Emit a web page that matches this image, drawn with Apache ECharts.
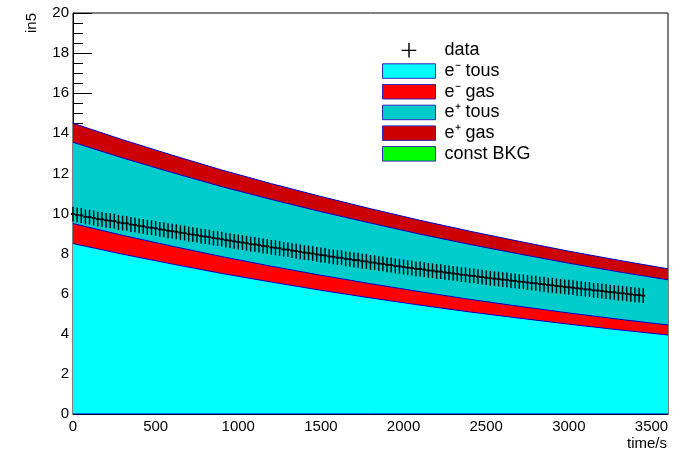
<!DOCTYPE html>
<html><head><meta charset="utf-8">
<script src="https://cdn.jsdelivr.net/npm/echarts@6/dist/echarts.min.js"></script>
<style>html,body{margin:0;padding:0;background:#fff}#c{width:683px;height:451px}</style>
</head><body><div id="c"></div>
<script>
// ---- stacked components (value of each layer at bandTimes) ----
const bandTimes  = [0, 300, 600, 900, 1200, 1500, 1800, 2100, 2400, 2700, 3000, 3300, 3600];
const constBkg   = [0, 0, 0, 0, 0, 0, 0, 0, 0, 0, 0, 0, 0];
const eMinusTous = [8.50, 7.97, 7.48, 7.01, 6.58, 6.17, 5.79, 5.43, 5.09, 4.78, 4.48, 4.20, 3.94];
const eMinusGas  = [1.00, 0.94, 0.89, 0.84, 0.79, 0.75, 0.71, 0.67, 0.63, 0.59, 0.56, 0.53, 0.50];
const ePlusTous  = [4.05, 3.86, 3.67, 3.49, 3.33, 3.17, 3.02, 2.87, 2.74, 2.61, 2.48, 2.36, 2.25];
const ePlusGas   = [0.95, 0.91, 0.87, 0.83, 0.79, 0.76, 0.72, 0.69, 0.66, 0.63, 0.60, 0.58, 0.55];

// ---- measured data points (bin width 25 s starting at 0) ----
const dataStart = 0;
const dataStep = 25;
const dataValues = [
  9.97, 9.93, 9.90, 9.83, 9.82, 9.78, 9.72, 9.71, 9.66, 9.64,
  9.62, 9.55, 9.52, 9.51, 9.45, 9.43, 9.38, 9.36, 9.31, 9.29,
  9.26, 9.21, 9.19, 9.14, 9.12, 9.09, 9.04, 9.02, 8.97, 8.95,
  8.92, 8.87, 8.85, 8.82, 8.77, 8.75, 8.72, 8.67, 8.65, 8.61,
  8.58, 8.55, 8.52, 8.47, 8.46, 8.42, 8.38, 8.36, 8.31, 8.29,
  8.26, 8.21, 8.20, 8.15, 8.13, 8.09, 8.05, 8.03, 8.00, 7.96,
  7.93, 7.91, 7.86, 7.84, 7.80, 7.79, 7.74, 7.72, 7.68, 7.67,
  7.62, 7.61, 7.56, 7.55, 7.50, 7.49, 7.44, 7.43, 7.38, 7.37,
  7.33, 7.30, 7.28, 7.24, 7.23, 7.20, 7.16, 7.15, 7.11, 7.10,
  7.06, 7.04, 7.01, 6.99, 6.95, 6.94, 6.90, 6.89, 6.85, 6.83,
  6.80, 6.77, 6.75, 6.73, 6.70, 6.69, 6.65, 6.64, 6.60, 6.59,
  6.56, 6.53, 6.52, 6.48, 6.47, 6.43, 6.42, 6.39, 6.37, 6.34,
  6.32, 6.30, 6.27, 6.25, 6.22, 6.21, 6.17, 6.16, 6.13, 6.11,
  6.08, 6.07, 6.03, 6.02, 5.99, 5.97, 5.94, 5.93, 5.90
];
const dataErrY = 0.37;
const dataErrX = 12.5;

const xMin = 0, xMax = 3600, xInterval = 500;
const yMin = 0, yMax = 20, yInterval = 2;

const names = {
  bkg: 'const BKG', emt: 'e\u207B tous', emg: 'e\u207B gas', ept: 'e\u207A tous', epg: 'e\u207A gas', data: 'data'
};
const fills = { bkg: '#00ff00', emt: '#00ffff', emg: '#ff0000', ept: '#00cccc', epg: '#cc0000' };
const edge = '#0000cc';

// stack order bottom -> top
const layers = [['emt', eMinusTous], ['emg', eMinusGas], ['ept', ePlusTous], ['epg', ePlusGas]];
const cumulative = {};
let running = bandTimes.map(() => 0);
layers.forEach(([key, vals]) => {
  running = running.map((r, i) => r + vals[i]);
  cumulative[key] = running.slice();
});

function area(key, tops, withArea) {
  const s = {
    name: names[key], type: 'line', data: bandTimes.map((t, i) => [t, tops[i]]),
    symbol: 'none', silent: true, z: 2,
    itemStyle: { color: fills[key] },
    lineStyle: { color: edge, width: 1 }
  };
  if (withArea) s.areaStyle = { color: fills[key], opacity: 1, origin: 'start' };
  return s;
}
const pts = dataValues.map((v, i) => [dataStart + i * dataStep, v, dataErrY, dataErrX]);

const chart = echarts.init(document.getElementById('c'), null, { renderer: 'canvas' });
const font = '"Liberation Sans", Arial, Helvetica, sans-serif';
chart.setOption({
  animation: false,
  backgroundColor: '#ffffff',
  textStyle: { fontFamily: font },
  grid: { left: 73, right: 15, top: 13, bottom: 37, show: true, borderColor: '#000', borderWidth: 1, backgroundColor: 'transparent' },
  xAxis: {
    type: 'value', min: xMin, max: xMax, interval: xInterval,
    axisLine: { show: true, onZero: false, lineStyle: { color: '#000' } },
    axisTick: { show: false },
    splitLine: { show: false },
    axisLabel: { color: '#000', fontSize: 15, fontFamily: font, margin: 5, showMaxLabel: false, formatter: v => String(v) }
  },
  yAxis: {
    type: 'value', min: yMin, max: yMax, interval: yInterval,
    axisLine: { show: true, lineStyle: { color: '#000' } },
    axisTick: { show: true, inside: true, length: 19, lineStyle: { color: '#000' } },
    minorTick: { show: true, splitNumber: 4, length: 10, lineStyle: { color: '#000' } },
    splitLine: { show: false },
    axisLabel: { color: '#000', fontSize: 15, fontFamily: font, margin: 4, formatter: v => String(v) }
  },
  legend: {
    orient: 'vertical', left: 382, top: 40, align: 'left', padding: 0,
    itemWidth: 53, itemHeight: 14.5, itemGap: 0,
    icon: 'rect',
    itemStyle: { borderColor: '#2a2ab4', borderWidth: 1 },
    textStyle: { fontSize: 18, color: '#000', fontFamily: font, lineHeight: 20.7, padding: [0, 0, 0, 4] },
    selectedMode: false,
    data: [
      { name: names.data, icon: 'path://M6.3,0H7.7V6.3H14V7.7H7.7V14H6.3V7.7H0V6.3H6.3Z', itemStyle: { color: '#000', borderWidth: 0 } },
      { name: names.emt, itemStyle: { color: fills.emt } },
      { name: names.emg, itemStyle: { color: fills.emg } },
      { name: names.ept, itemStyle: { color: fills.ept } },
      { name: names.epg, itemStyle: { color: fills.epg } },
      { name: names.bkg, itemStyle: { color: fills.bkg } }
    ]
  },
  graphic: [
    { type: 'text', left: 24, top: 13, rotation: Math.PI / 2, style: { text: 'in5', font: '15px ' + font, fill: '#000' }, silent: true },
    { type: 'text', right: 16, top: 436, style: { text: 'time/s', font: '15px ' + font, fill: '#000' }, silent: true }
  ],
  series: [
    area('epg', cumulative.epg, true),
    area('ept', cumulative.ept, true),
    area('emg', cumulative.emg, true),
    area('emt', cumulative.emt, true),
    area('bkg', constBkg, false),
    {
      name: names.data, type: 'custom', data: pts, z: 10, silent: true,
      itemStyle: { color: '#000' },
      encode: { x: 0, y: 1 },
      renderItem: function (params, api) {
        const t = api.value(0), v = api.value(1), ey = api.value(2), ex = api.value(3);
        const c = api.coord([t, v]);
        const l = api.coord([t - ex, v]);
        const r = api.coord([t + ex, v]);
        const hi = api.coord([t, v + ey]);
        const lo = api.coord([t, v - ey]);
        return {
          type: 'group', children: [
            { type: 'line', shape: { x1: l[0], y1: c[1], x2: r[0], y2: c[1] }, style: { stroke: '#000', lineWidth: 1.8 } },
            { type: 'line', shape: { x1: c[0], y1: hi[1], x2: c[0], y2: lo[1] }, style: { stroke: '#000', lineWidth: 1.4 } }
          ]
        };
      }
    }
  ]
});
</script>
</body></html>
